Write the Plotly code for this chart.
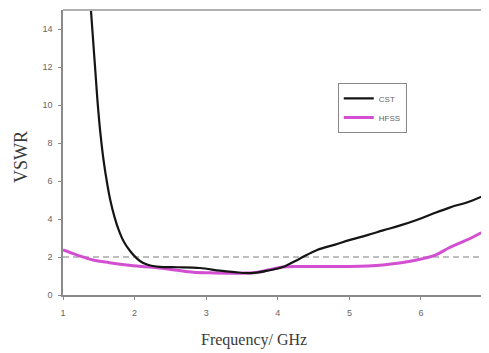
import plotly.graph_objects as go

# CST simulation (VSWR vs frequency)
cst_freq = [1.39, 1.44, 1.48, 1.52, 1.57, 1.62, 1.66, 1.72, 1.78, 1.85, 1.94, 2.03, 2.12, 2.22, 2.35, 2.60, 2.91, 3.19, 3.40, 3.57, 3.70, 3.85, 4.07, 4.30, 4.55, 4.80, 5.01, 5.25, 5.47, 5.70, 5.94, 6.18, 6.40, 6.70, 6.95]
cst_vswr = [15.0, 12.4, 10.3, 8.6, 7.0, 5.8, 5.0, 4.1, 3.4, 2.8, 2.3, 1.93, 1.68, 1.55, 1.48, 1.46, 1.42, 1.28, 1.2, 1.15, 1.18, 1.28, 1.47, 1.9, 2.37, 2.65, 2.9, 3.15, 3.4, 3.65, 3.95, 4.3, 4.6, 4.95, 5.35]

# HFSS simulation
hfss_freq = [1.0, 1.2, 1.42, 1.65, 1.89, 2.1, 2.35, 2.6, 2.82, 3.05, 3.29, 3.5, 3.65, 3.85, 4.07, 4.3, 4.55, 5.0, 5.47, 5.7, 5.94, 6.2, 6.4, 6.7, 6.95]
hfss_vswr = [2.37, 2.1, 1.84, 1.7, 1.58, 1.5, 1.42, 1.3, 1.2, 1.17, 1.15, 1.15, 1.17, 1.3, 1.47, 1.5, 1.5, 1.5, 1.58, 1.68, 1.84, 2.1, 2.5, 3.0, 3.5]

# Reference level
ref_freq = [1.0, 6.95]
ref_vswr = [2.0, 2.0]

x_ticks = [1, 2, 3, 4, 5, 6]
y_ticks = [0, 2, 4, 6, 8, 10, 12, 14]

fig = go.Figure()
fig.add_trace(go.Scatter(x=ref_freq, y=ref_vswr, mode="lines", showlegend=False,
                         line=dict(color="#a8a8a8", width=1.6, dash="6px,4px"), hoverinfo="skip"))
fig.add_trace(go.Scatter(x=hfss_freq, y=hfss_vswr, mode="lines", name="HFSS", line_shape="spline",
                         line=dict(color="#d24fd2", width=3)))
fig.add_trace(go.Scatter(x=cst_freq, y=cst_vswr, mode="lines", name="CST", line_shape="spline",
                         line=dict(color="#151515", width=2.2)))

tick_font = dict(family="Liberation Sans, Arial", size=9, color="#666")
title_font = dict(family="Liberation Serif, Times New Roman", color="#3a3a3a")
fig.update_layout(
    width=481, height=345,
    margin=dict(l=55, r=0, t=2, b=58),
    paper_bgcolor="white", plot_bgcolor="white",
    showlegend=True,
    legend=dict(x=0.645, y=0.744, xanchor="left", yanchor="top",
                bordercolor="#888", borderwidth=1, bgcolor="white",
                font=dict(family="Liberation Sans, Arial", size=8, color="#666"),
                traceorder="reversed", itemwidth=30, tracegroupgap=0),
    xaxis=dict(range=[1, 6.95], tickvals=x_ticks, showgrid=False, zeroline=False,
               showline=True, linecolor="#8a8a8a", linewidth=1.5,
               ticks="outside", ticklen=3, tickcolor="#8a8a8a", ticklabelstandoff=5,
               tickfont=tick_font),
    yaxis=dict(range=[0, 15], tickvals=y_ticks, showgrid=False, zeroline=False,
               showline=True, linecolor="#8a8a8a", linewidth=1.5, mirror=False,
               ticks="outside", ticklen=3, tickcolor="#8a8a8a", ticklabelstandoff=4,
               tickfont=tick_font),
)
# axis titles placed as in the reference
fig.add_annotation(text="Frequency/ GHz", xref="paper", yref="paper",
                   x=(254 - 63) / 426, y=-(340 - 295) / 285, xanchor="center", yanchor="middle",
                   showarrow=False, font=dict(size=16, **title_font))
fig.add_annotation(text="VSWR", xref="paper", yref="paper", textangle=-90,
                   x=-(63 - 21) / 426, y=(295 - 157) / 285, xanchor="center", yanchor="middle",
                   showarrow=False, font=dict(size=18, **title_font))
# top border line
fig.add_shape(type="line", xref="paper", yref="paper", x0=0, x1=1, y0=1, y1=1,
              line=dict(color="#b0b0b0", width=2))

fig.write_html("out.html")
